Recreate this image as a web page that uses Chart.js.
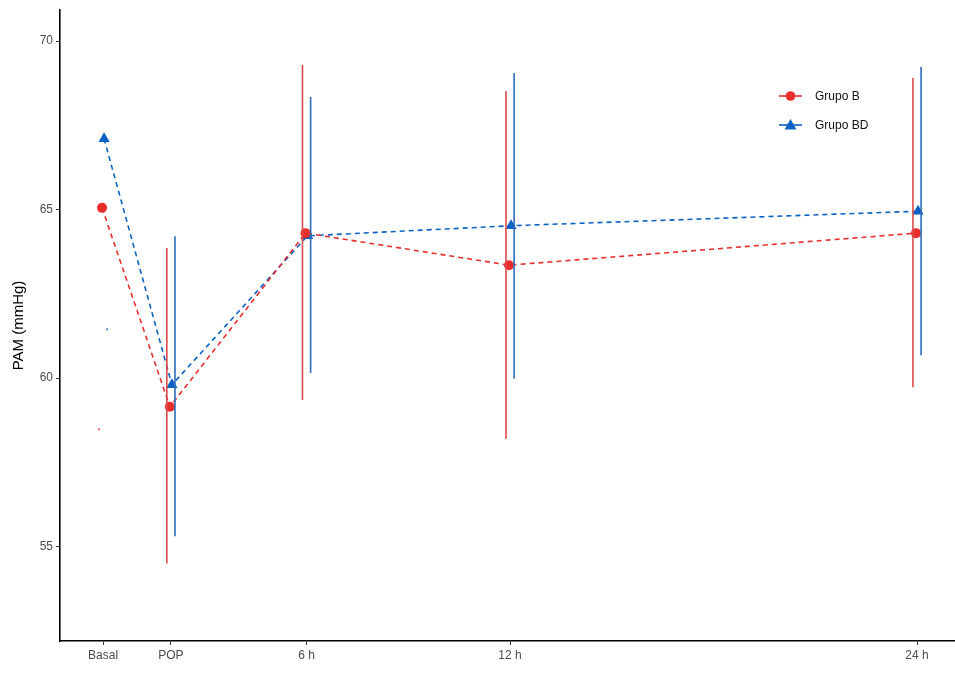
<!DOCTYPE html>
<html>
<head>
<meta charset="utf-8">
<script src="https://cdn.jsdelivr.net/npm/chart.js@4"></script>
<style>
  body { margin: 0; background: #fff; }
  #chart { display: block; }
</style>
</head>
<body>
<canvas id="chart" width="955" height="673"></canvas>
<script>
// time points (hours) and their labels
const timeHours = [0, 2, 6, 12, 24];
const timeLabels = ['Basal', 'POP', '6 h', '12 h', '24 h'];
const yTicks = [55, 60, 65, 70];

// mean PAM per group
const grupoB = [65.05, 59.15, 64.3, 63.35, 64.3];
const grupoBD = [67.1, 59.8, 64.22, 64.52, 64.95];

// error bar limits
const grupoBLow = [58.45, 54.5, 59.35, 58.2, 59.73];
const grupoBHigh = [58.51, 63.86, 69.29, 68.52, 68.9];
const grupoBDLow = [61.42, 55.31, 60.15, 59.98, 60.68];
const grupoBDHigh = [61.48, 64.21, 68.34, 69.05, 69.23];

const RED = '#EA2E2E';
const BLUE = '#0B62C4';
const RED_BAR = '#DC4A4A';
const BLUE_BAR = '#2A6DB8';

// small horizontal offsets (dodge) in hours
const pointDodge = 0.03;
const barDodge = 0.12;

function meanPoints(values, off) {
    return values.map((v, i) => ({ x: timeHours[i] + off, y: v }));
}

function errorSegments(low, high, off) {
    const pts = [];
    low.forEach((lo, i) => {
        const x = timeHours[i] + off;
        pts.push({ x: x, y: lo });
        pts.push({ x: x, y: high[i] });
        pts.push({ x: x, y: null }); // break between bars
    });
    return pts;
}

// legend drawn inside the plot, like ggplot
const insideLegend = {
    id: 'insideLegend',
    afterDatasetsDraw(chart) {
        const ctx = chart.ctx;
        const items = chart.data.datasets.filter(d => d.showInLegend);
        const x0 = 779, y0 = 96, rowH = 29;
        ctx.save();
        items.forEach((d, i) => {
            const y = y0 + i * rowH;
            ctx.strokeStyle = d.borderColor;
            ctx.lineWidth = 1.6;
            ctx.setLineDash([]);
            ctx.beginPath();
            ctx.moveTo(x0, y);
            ctx.lineTo(x0 + 23, y);
            ctx.stroke();
            ctx.fillStyle = d.pointBackgroundColor;
            ctx.beginPath();
            if (d.pointStyle === 'triangle') {
                ctx.moveTo(x0 + 11.5, y - 6);
                ctx.lineTo(x0 + 17.5, y + 4.5);
                ctx.lineTo(x0 + 5.5, y + 4.5);
                ctx.closePath();
            } else {
                ctx.arc(x0 + 11.5, y, 4.8, 0, Math.PI * 2);
            }
            ctx.fill();
            ctx.fillStyle = '#111';
            ctx.font = '12px "Liberation Sans", Arial, sans-serif';
            ctx.textBaseline = 'middle';
            ctx.fillText(d.label, x0 + 36, y + 1);
        });
        ctx.restore();
    }
};

const ctx = document.getElementById('chart').getContext('2d');
const chart = new Chart(ctx, {
    type: 'line',
    data: {
        datasets: [
            {
                label: 'Grupo B error',
                data: errorSegments(grupoBLow, grupoBHigh, -barDodge),
                borderColor: RED_BAR,
                borderWidth: 1.6,
                pointRadius: 0,
                spanGaps: false,
                fill: false
            },
            {
                label: 'Grupo BD error',
                data: errorSegments(grupoBDLow, grupoBDHigh, barDodge),
                borderColor: BLUE_BAR,
                borderWidth: 1.6,
                pointRadius: 0,
                spanGaps: false,
                fill: false
            },
            {
                label: 'Grupo B',
                showInLegend: true,
                data: meanPoints(grupoB, -pointDodge),
                borderColor: RED,
                borderWidth: 1.6,
                borderDash: [5, 4],
                pointStyle: 'circle',
                pointRadius: 5,
                pointBackgroundColor: RED,
                pointBorderWidth: 0,
                tension: 0,
                fill: false
            },
            {
                label: 'Grupo BD',
                showInLegend: true,
                data: meanPoints(grupoBD, pointDodge),
                borderColor: BLUE,
                borderWidth: 1.6,
                borderDash: [5, 4],
                pointStyle: 'triangle',
                pointRadius: 6.5,
                pointBackgroundColor: BLUE,
                pointBorderWidth: 0,
                tension: 0,
                fill: false
            }
        ]
    },
    options: {
        responsive: false,
        animation: false,
        layout: { autoPadding: false, padding: { top: 10, right: 0, left: 0, bottom: 0 } },
        plugins: {
            legend: { display: false },
            tooltip: { enabled: false }
        },
        scales: {
            x: {
                type: 'linear',
                min: -1.27,
                max: 25.12,
                afterBuildTicks: axis => {
                    axis.ticks = timeHours.map(v => ({ value: v }));
                },
                afterFit: axis => {
                    axis.height = 32;
                    axis.paddingLeft = 0;
                    axis.paddingRight = 0;
                },
                ticks: {
                    autoSkip: false,
                    maxRotation: 0,
                    padding: 3,
                    color: '#4D4D4D',
                    font: { family: '"Liberation Sans", Arial, sans-serif', size: 12 },
                    callback: v => timeLabels[timeHours.indexOf(v)]
                },
                grid: {
                    drawOnChartArea: false,
                    drawTicks: true,
                    tickLength: 4,
                    color: '#333'
                },
                border: { display: true, color: '#000', width: 1.6 }
            },
            y: {
                min: 52.2,
                max: 70.92,
                afterBuildTicks: axis => {
                    axis.ticks = yTicks.map(v => ({ value: v }));
                },
                afterFit: axis => {
                    axis.width = 60;
                    axis.paddingTop = 0;
                    axis.paddingBottom = 0;
                },
                ticks: {
                    padding: 3,
                    color: '#4D4D4D',
                    font: { family: '"Liberation Sans", Arial, sans-serif', size: 12 }
                },
                grid: {
                    drawOnChartArea: false,
                    drawTicks: true,
                    tickLength: 4,
                    color: '#333'
                },
                border: { display: true, color: '#000', width: 1.6 },
                title: {
                    display: true,
                    text: 'PAM (mmHg)',
                    color: '#000',
                    padding: { top: 10, bottom: 0 },
                    font: { family: '"Liberation Sans", Arial, sans-serif', size: 15 }
                }
            }
        }
    },
    plugins: [insideLegend]
});
</script>
</body>
</html>
